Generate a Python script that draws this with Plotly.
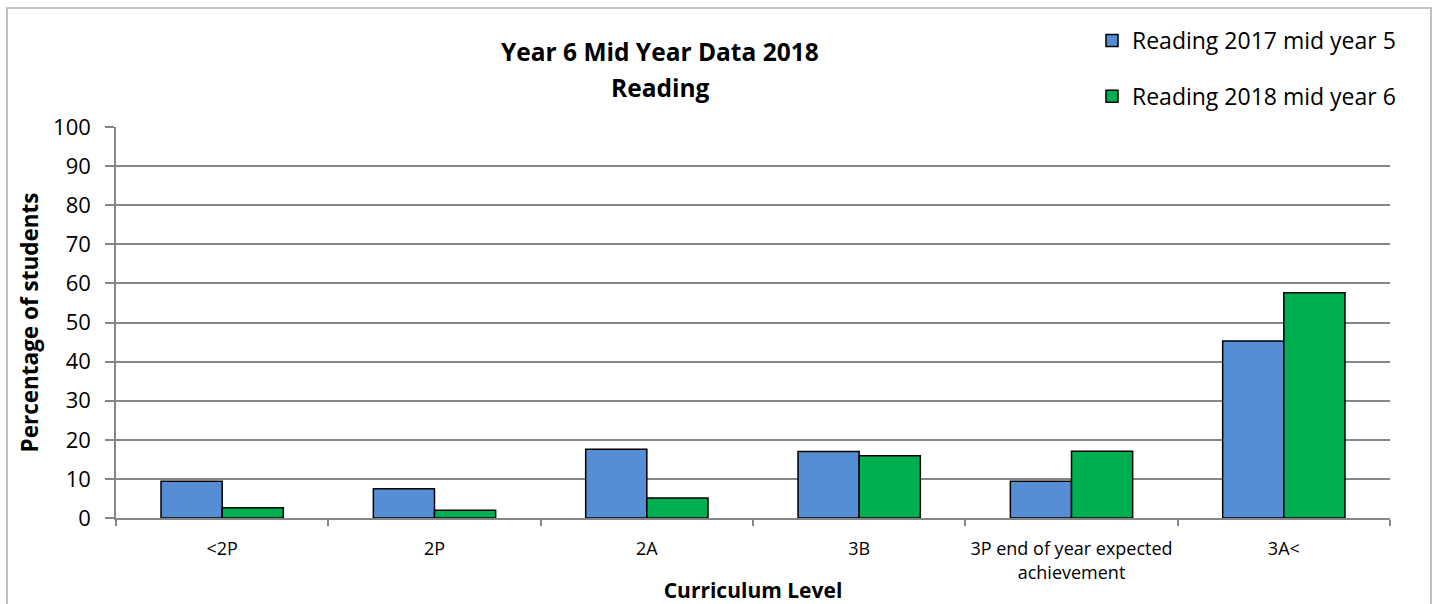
import plotly.graph_objects as go

# Curriculum levels and percentage of students per level
categories = ["<2P", "2P", "2A", "3B", "3P end of year expected<br>achievement", "3A<"]
reading_2017 = [9.4, 7.5, 17.6, 17.0, 9.4, 45.3]
reading_2018 = [2.6, 2.0, 5.1, 15.9, 17.1, 57.6]
series_names = ["Reading 2017 mid year 5", "Reading 2018 mid year 6"]
y_ticks = list(range(0, 101, 10))

W, H = 1440, 604
L, R, T, B = 116, 1390, 127, 518  # plot area in pixels


def px(x):
    return (x - L) / (R - L)


def py(y):
    return (B - y) / (B - T)


FONT = "'Open Sans', Calibri, Carlito, sans-serif"

fig = go.Figure()
fig.add_trace(go.Bar(
    x=categories, y=reading_2017, name=series_names[0],
    marker=dict(color="#558ed5", line=dict(color="#000000", width=1.5)),
    legendgroup="a",
))
fig.add_trace(go.Bar(
    x=categories, y=reading_2018, name=series_names[1],
    marker=dict(color="#00b050", line=dict(color="#000000", width=1.5)),
    legendgroup="b",
))

fig.update_layout(
    width=W, height=H,
    margin=dict(l=L, r=W - R, t=T, b=H - B, autoexpand=False),
    paper_bgcolor="white", plot_bgcolor="white",
    font=dict(family=FONT, color="#000000"),
    barmode="group", bargap=0.424, bargroupgap=0,
    showlegend=True,
    legend=dict(
        x=px(1092), y=py(19), xanchor="left", yanchor="top",
        font=dict(size=23, family=FONT),
        traceorder="grouped", tracegroupgap=23,
        bgcolor="rgba(0,0,0,0)",
    ),
    xaxis=dict(
        automargin=False,
        showline=True, linecolor="#868686", linewidth=1.5,
        ticks="outside", tickson="boundaries", ticklen=6,
        tickcolor="#868686", tickwidth=1.5,
        tickfont=dict(size=18, family=FONT),
        ticklabelstandoff=14,
        title=dict(text="<b>Curriculum Level</b>", font=dict(size=21, family=FONT), standoff=6),
        showgrid=False,
    ),
    yaxis=dict(
        automargin=False,
        range=[0, 100], tickvals=y_ticks,
        showline=True, linecolor="#868686", linewidth=1.5,
        ticks="outside", ticklen=9, tickcolor="#868686", tickwidth=1.5,
        showgrid=True, gridcolor="#868686", gridwidth=1.5,
        tickfont=dict(size=22, family=FONT),
        ticklabelstandoff=10,
        title=dict(text="<b>Percentage of students</b>", font=dict(size=22.5, family=FONT), standoff=8),
        zeroline=False,
    ),
    annotations=[
        dict(text="<b>Year 6 Mid Year Data 2018</b>", x=px(660), y=py(52),
             xref="paper", yref="paper", showarrow=False,
             font=dict(size=24.5, family=FONT), xanchor="center", yanchor="middle"),
        dict(text="<b>Reading</b>", x=px(660), y=py(87),
             xref="paper", yref="paper", showarrow=False,
             font=dict(size=24.5, family=FONT), xanchor="center", yanchor="middle"),
    ],
    shapes=[
        dict(type="rect", xref="paper", yref="paper",
             x0=px(7), x1=px(1431), y0=py(640), y1=py(8),
             line=dict(color="#c0c0c0", width=2), fillcolor="rgba(0,0,0,0)",
             layer="below"),
    ],
)

fig.write_html("out.html")
